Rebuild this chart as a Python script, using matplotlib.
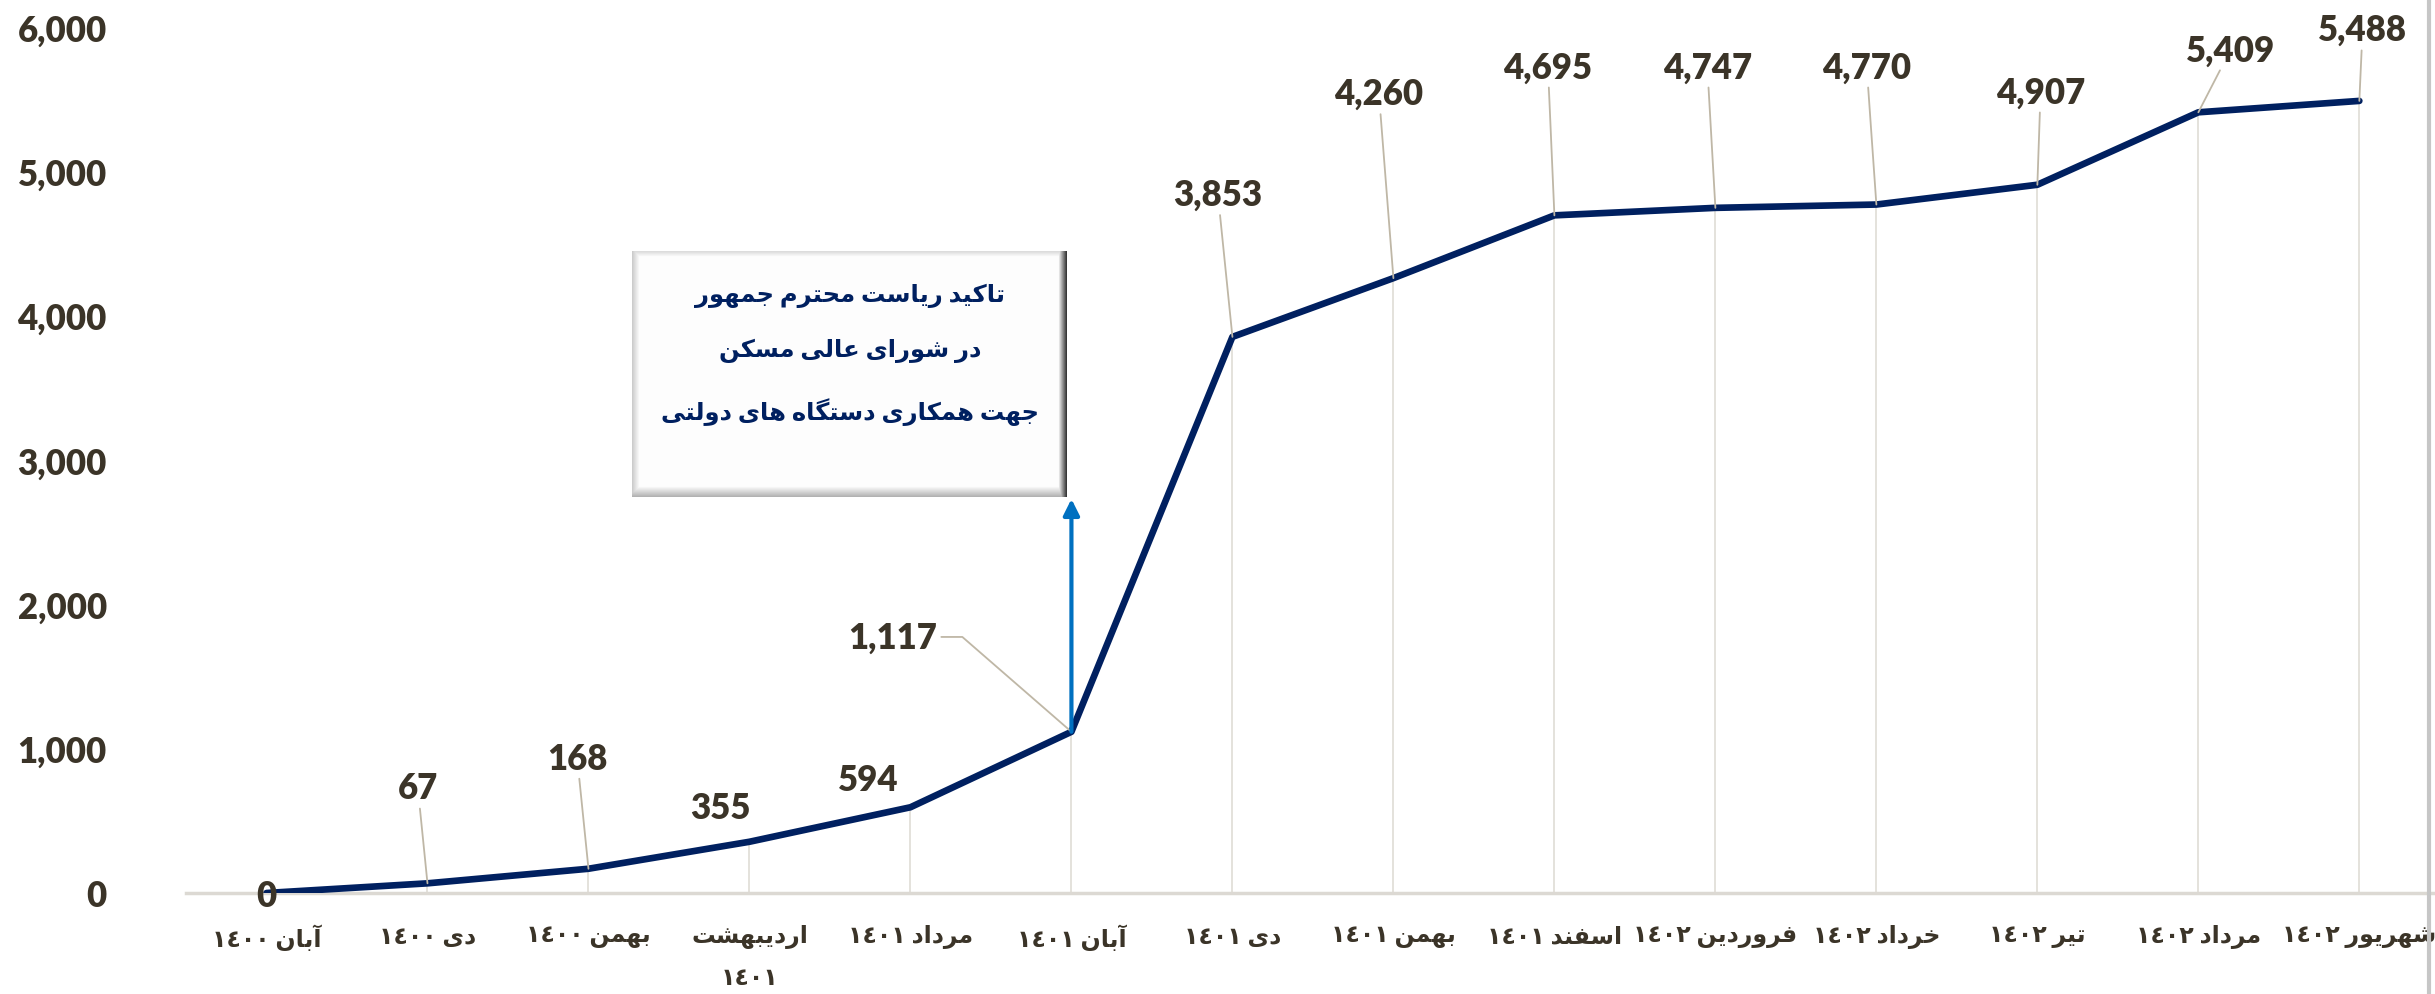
import numpy as np
import matplotlib
matplotlib.use('Agg')
import matplotlib.pyplot as plt
from matplotlib.lines import Line2D
from matplotlib.ticker import FuncFormatter

plt.rcParams['font.family'] = ['Lato', 'DejaVu Sans']
plt.rcParams['font.weight'] = 'bold'

# داده ها
months = ['آبان ١٤٠٠', 'دی ١٤٠٠', 'بهمن ١٤٠٠', 'اردیبهشت\n١٤٠١', 'مرداد ١٤٠١', 'آبان ١٤٠١', 'دی ١٤٠١',
          'بهمن ١٤٠١', 'اسفند ١٤٠١', 'فروردین ١٤٠٢', 'خرداد ١٤٠٢', 'تیر ١٤٠٢', 'مرداد ١٤٠٢', 'شهریور ١٤٠٢']
values = [0, 67, 168, 355, 594, 1117, 3853, 4260, 4695, 4747, 4770, 4907, 5409, 5488]
y_ticks = [0, 1000, 2000, 3000, 4000, 5000, 6000]
box_text = 'تاکید ریاست محترم جمهور\nدر شورای عالی مسکن\nجهت همکاری دستگاه های دولتی'

# label offsets (dx in categories, dy in values) and whether a leader line is drawn
label_dx = [0, -0.06, -0.07, -0.18, -0.26, -1.11, -0.09, -0.09, -0.04, -0.05, -0.06, 0.02, 0.2, 0.02]
label_dy = [-20, 661, 767, 234, 189, 657, 987, 1279, 1029, 977, 954, 644, 433, 493]
leader = [False, True, True, False, False, True, True, True, True, True, True, True, True, True]

# شکل دهی ساده حروف فارسی (matplotlib اتصال حروف را انجام نمی دهد)
FORMS = {
    '\u0622': ('\uFE81', '\uFE82'),
    '\u0627': ('\uFE8D', '\uFE8E'),
    '\u062F': ('\uFEA9', '\uFEAA'),
    '\u0631': ('\uFEAD', '\uFEAE'),
    '\u0648': ('\uFEED', '\uFEEE'),
    '\u0628': ('\uFE8F', '\uFE90', '\uFE91', '\uFE92'),
    '\u062A': ('\uFE95', '\uFE96', '\uFE97', '\uFE98'),
    '\u062C': ('\uFE9D', '\uFE9E', '\uFE9F', '\uFEA0'),
    '\u062D': ('\uFEA1', '\uFEA2', '\uFEA3', '\uFEA4'),
    '\u062E': ('\uFEA5', '\uFEA6', '\uFEA7', '\uFEA8'),
    '\u0633': ('\uFEB1', '\uFEB2', '\uFEB3', '\uFEB4'),
    '\u0634': ('\uFEB5', '\uFEB6', '\uFEB7', '\uFEB8'),
    '\u0639': ('\uFEC9', '\uFECA', '\uFECB', '\uFECC'),
    '\u0641': ('\uFED1', '\uFED2', '\uFED3', '\uFED4'),
    '\u0644': ('\uFEDD', '\uFEDE', '\uFEDF', '\uFEE0'),
    '\u0645': ('\uFEE1', '\uFEE2', '\uFEE3', '\uFEE4'),
    '\u0646': ('\uFEE5', '\uFEE6', '\uFEE7', '\uFEE8'),
    '\u0647': ('\uFEE9', '\uFEEA', '\uFEEB', '\uFEEC'),
    '\u06A9': ('\uFB8E', '\uFB8F', '\uFB90', '\uFB91'),
    '\u06AF': ('\uFB92', '\uFB93', '\uFB94', '\uFB95'),
    '\u06CC': ('\uFBFC', '\uFBFD', '\uFBFE', '\uFBFF'),
}


def shape_word(word):
    out = []
    for i, ch in enumerate(word):
        if ch not in FORMS:
            out.append(ch)
            continue
        prev = word[i - 1] if i > 0 else None
        nxt = word[i + 1] if i + 1 < len(word) else None
        f = FORMS[ch]
        join_prev = prev in FORMS and len(FORMS[prev]) == 4
        join_next = len(f) == 4 and nxt in FORMS
        if join_prev and join_next:
            out.append(f[3])
        elif join_prev:
            out.append(f[1])
        elif join_next:
            out.append(f[2])
        else:
            out.append(f[0])
    return ''.join(reversed(out))


def fa(text):
    lines = []
    for line in text.split('\n'):
        tokens = []
        for tok in line.split(' '):
            if any(c in FORMS for c in tok):
                tokens.append(shape_word(tok))
            else:
                tokens.append(tok)
        lines.append(' '.join(reversed(tokens)))
    return '\n'.join(lines)


text_color = '#3b3428'
navy = '#002060'

fig = plt.figure(figsize=(24.35, 9.95), dpi=100)
ax = fig.add_axes([186 / 2435, 1 - 894 / 995, 1 - 186 / 2435, (894 - 28) / 995])

x = np.arange(len(months))
ax.vlines(x, 0, values, color='#e2dfd9', lw=1.3, zorder=1)
ax.plot(x, values, color=navy, lw=4.8, solid_joinstyle='round', solid_capstyle='round', zorder=3)

ax.set_xlim(-0.5, 13.47)
ax.set_ylim(0, 6000)
ax.set_yticks(y_ticks)
ax.yaxis.set_major_formatter(FuncFormatter(lambda v, p: f'{v:,.0f}'))
ax.set_xticks(x)
ax.set_xticklabels([fa(m) for m in months], fontsize=17, color=text_color, linespacing=1.9)
for s in ['top', 'left', 'right']:
    ax.spines[s].set_visible(False)
ax.spines['bottom'].set_color('#dcd9d3')
ax.spines['bottom'].set_linewidth(2.5)
ax.tick_params(axis='both', length=0)
ax.tick_params(axis='y', pad=57, labelsize=25, labelcolor=text_color)
ax.tick_params(axis='x', pad=22, labelcolor=text_color)
for t in ax.get_yticklabels():
    t.set_fontweight('heavy')

# برچسب مقادیر
for i, v in enumerate(values):
    props = None
    if leader[i]:
        props = dict(arrowstyle='-', color='#bfb7a6', lw=1.3, shrinkA=1, shrinkB=0)
        if i == 5:
            props.update(relpos=(1, 0.5), connectionstyle='angle,angleA=0,angleB=139,rad=0')
    ax.annotate(f'{v:,}', xy=(i, v), xytext=(i + label_dx[i], v + label_dy[i]),
                ha='center', va='center', fontsize=25, fontweight='heavy', color=text_color,
                arrowprops=props, annotation_clip=False, zorder=4)

# کادر توضیح
bx0, bx1, by0, by1 = 2.273, 4.975, 2744, 4442
h, w = 245, 435
yy, xx = np.mgrid[0:h, 0:w]
bevel = np.full((h, w), 0.99)
bevel = np.minimum(bevel, 0.80 + 0.19 * np.clip(xx / 7, 0, 1))
bevel = np.minimum(bevel, 0.86 + 0.13 * np.clip(yy / 5, 0, 1))
bevel = np.minimum(bevel, 0.22 + 0.77 * np.clip((w - 1 - xx) / 8, 0, 1))
bevel = np.minimum(bevel, 0.70 + 0.29 * np.clip((h - 1 - yy) / 10, 0, 1))
ax.imshow(bevel, cmap='gray', vmin=0, vmax=1, extent=(bx0, bx1, by0, by1),
          aspect='auto', origin='upper', zorder=5, interpolation='bilinear')
ax.set_xlim(-0.5, 13.47)
ax.set_ylim(0, 6000)
ax.text((bx0 + bx1) / 2, 3735, fa(box_text), ha='center', va='center', fontsize=17.5,
        color=navy, fontweight='bold', linespacing=2.6, zorder=6)

# فلش
ax.annotate('', xy=(5, 2730), xytext=(5, values[5]),
            arrowprops=dict(arrowstyle='-|>', color='#0070c0', lw=3, mutation_scale=24,
                            shrinkA=0, shrinkB=0), zorder=4)

fig.add_artist(Line2D([2429 / 2435] * 2, [0, 1], transform=fig.transFigure, color='#c6c6c6', lw=3))

plt.savefig('out.png', dpi=100)
plt.close()
